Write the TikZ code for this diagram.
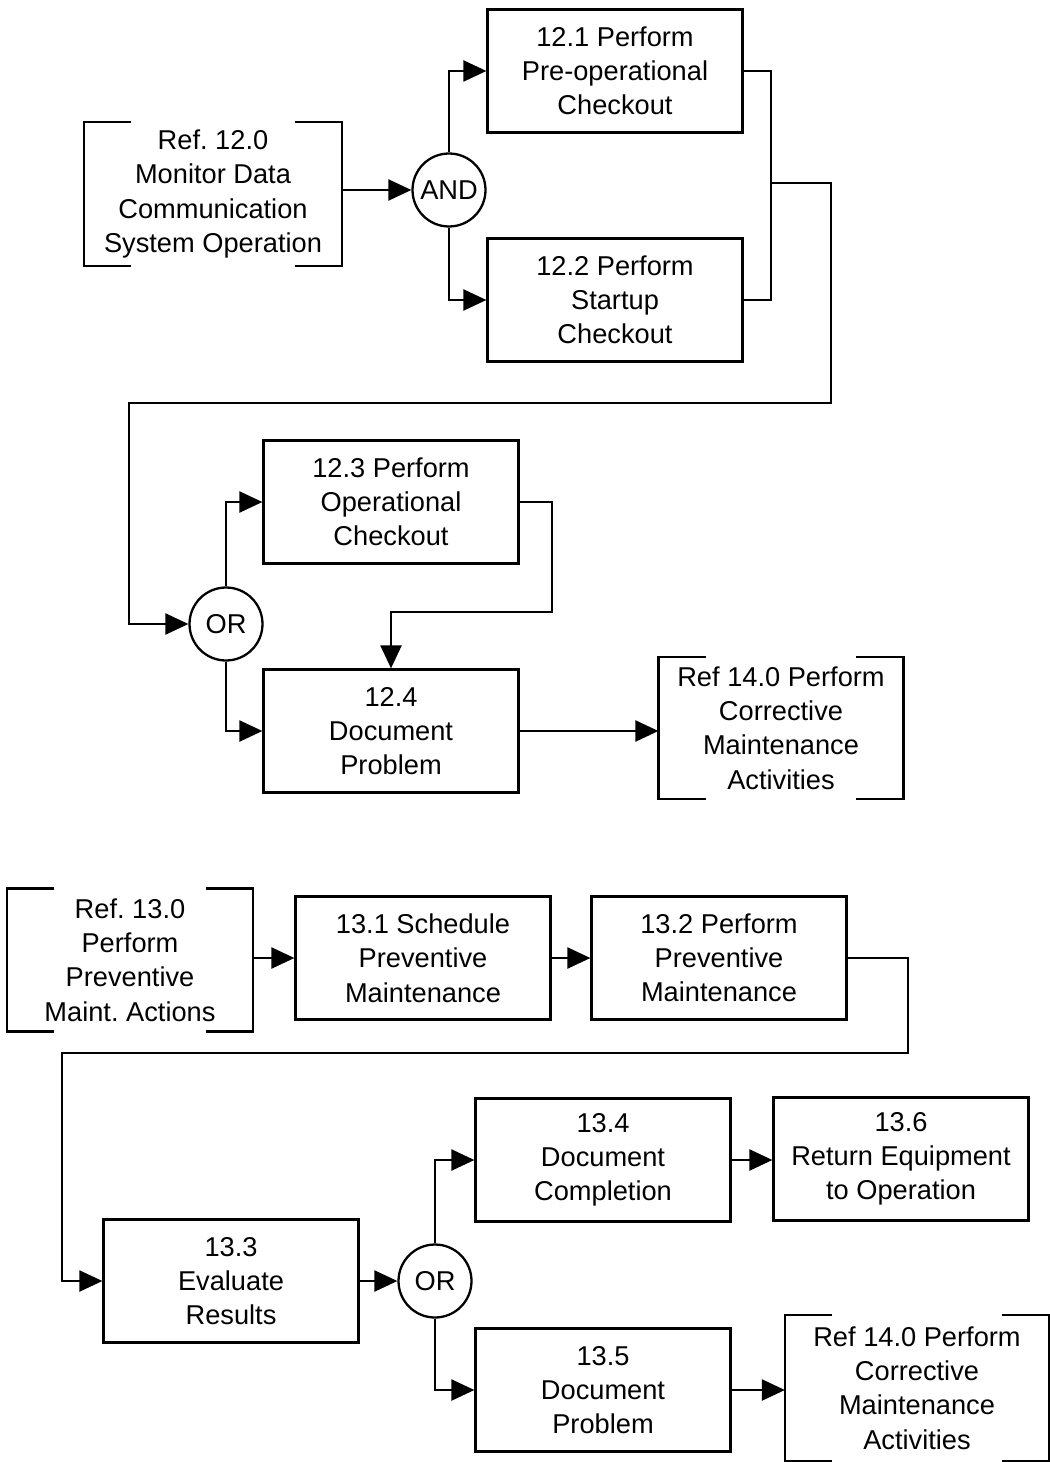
\documentclass[tikz,border=0pt]{standalone}
\usepackage{fontspec}
\setmainfont{Liberation Sans}
\usetikzlibrary{arrows.meta}
\frenchspacing
\newcommand\refbrackets[1]{%
  \draw ([xshift=0.95cm]#1.north west) -| (#1.south west) -- ++(0.95cm,0);
  \draw ([xshift=-0.95cm]#1.north east) -| (#1.south east) -- ++(-0.95cm,0);}
\begin{document}
\begin{tikzpicture}[x=0.02cm,y=-0.02cm,line width=1.3pt,
  >={Triangle[length=0.46cm,width=0.42cm]},
  every node/.style={font=\fontsize{15.5}{19.5}\selectfont,align=center,inner sep=0pt},
  task/.style={draw,minimum width=5.1cm,minimum height=2.46cm},
  gate/.style={draw,circle,minimum size=1.46cm}]
  \useasboundingbox (0,0) rectangle (1050,1462);
  \node[minimum width=5.12cm,minimum height=2.84cm] (r120) at (213,194)
    {Ref. 12.0\\Monitor Data\\Communication\\System Operation};
  \node[gate] (and) at (449,190) {AND};
  \node[task] (t121) at (615,71) {12.1 Perform\\Pre-operational\\Checkout};
  \node[task] (t122) at (615,300) {12.2 Perform\\Startup\\Checkout};
  \node[gate] (or1) at (226,624) {OR};
  \node[task] (t123) at (391,502) {12.3 Perform\\Operational\\Checkout};
  \node[task] (t124) at (391,731) {12.4\\Document\\Problem};
  \node[minimum width=4.86cm,minimum height=2.8cm] (r140a) at (781,728)
    {Ref 14.0 Perform\\Corrective\\Maintenance\\Activities};
  \node[minimum width=4.88cm,minimum height=2.82cm] (r130) at (130,960)
    {Ref. 13.0\\Perform\\Preventive\\Maint. Actions};
  \node[task] (t131) at (423,958) {13.1 Schedule\\Preventive\\Maintenance};
  \node[task] (t132) at (719,958) {13.2 Perform\\Preventive\\Maintenance};
  \node[task] (t133) at (231,1281) {13.3\\Evaluate\\Results};
  \node[gate] (or2) at (435,1281) {OR};
  \node[task] (t134) at (603,1160) {13.4\\Document\\Completion};
  \node[task] (t136) at (901,1159) {13.6\\Return Equipment\\to Operation};
  \node[task] (t135) at (603,1390) {13.5\\Document\\Problem};
  \node[minimum width=5.24cm,minimum height=2.88cm] (r140b) at (917,1388)
    {Ref 14.0 Perform\\Corrective\\Maintenance\\Activities};
  \refbrackets{r120}
  \refbrackets{r140a}
  \refbrackets{r130}
  \refbrackets{r140b}
  \coordinate (j1) at (771,183);
  \coordinate (c1) at (831,403);
  \coordinate (c2) at (129,403);
  \coordinate (c3) at (552,612);
  \coordinate (c4) at (908,1053);
  \coordinate (c5) at (62,1053);
  \draw[->] (and.west -| r120.east) -- (and.west);
  \draw[->] (and.north) |- (t121.west);
  \draw[->] (and.south) |- (t122.west);
  \draw (t121.east) -| (j1) |- (t122.east);
  \draw[->] (j1) -| (c1) -- (c2) |- (or1.west);
  \draw[->] (or1.north) |- (t123.west);
  \draw[->] (or1.south) |- (t124.west);
  \draw[->] (t123.east) -| (c3) -| (t124.north);
  \draw[->] (t124.east) -- (t124.east -| r140a.west);
  \draw[->] (t131.west -| r130.east) -- (t131.west);
  \draw[->] (t131) -- (t132);
  \draw[->] (t132.east) -| (c4) -- (c5) |- (t133.west);
  \draw[->] (t133) -- (or2);
  \draw[->] (or2.north) |- (t134.west);
  \draw[->] (or2.south) |- (t135.west);
  \draw[->] (t134.east) -- (t134.east -| t136.west);
  \draw[->] (t135.east) -- (t135.east -| r140b.west);
\end{tikzpicture}
\end{document}
